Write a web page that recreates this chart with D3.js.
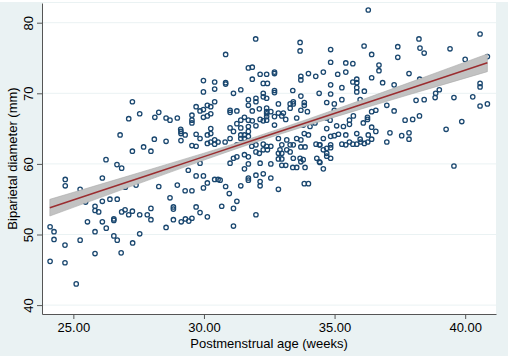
<!DOCTYPE html>
<html>
<head>
<meta charset="utf-8">
<script src="https://cdn.jsdelivr.net/npm/d3@7"></script>
<style>
  html, body { margin: 0; padding: 0; background: #ffffff; }
  svg { display: block; font-family: "Liberation Sans", Arial, sans-serif; }
</style>
</head>
<body>
<svg id="chart" width="510" height="356"></svg>
<script>
// Postmenstrual age (weeks) for each infant
const ageWeeks = [
  26.25,26.67,24.69,26.11,24.69,25.26,25.47,26.40,26.68,26.11,
  25.83,25.83,25.97,26.55,26.55,25.54,26.11,26.26,25.83,26.55,
  26.68,25.83,25.26,24.11,24.26,24.26,24.68,24.11,24.68,25.11,
  29.98,30.41,29.98,30.41,27.26,27.54,27.12,28.12,28.27,28.55,
  28.70,28.98,29.54,29.54,29.54,29.70,29.85,29.98,30.13,30.26,
  30.41,30.13,30.26,29.11,30.26,29.98,
  26.79,29.12,29.28,29.70,30.13,30.26,29.85,30.13,30.26,30.41,
  30.41,30.54,29.54,29.70,29.12,28.55,28.10,27.69,27.26,27.97,
  26.85,29.85,29.40,29.70,29.98,30.13,30.41,30.54,28.98,29.28,
  29.54,28.27,27.40,29.98,28.70,28.83,28.83,29.70,29.85,29.29,
  29.54,29.42,29.13,30.13,28.55,27.97,27.83,27.97,27.54,27.26,
  27.12,26.98,26.85,26.99,28.83,27.54,27.27,26.83,
  31.98,30.83,33.68,33.68,31.70,31.85,32.15,31.85,32.70,32.70,
  32.40,30.83,30.83,32.27,32.43,33.71,33.71,34.00,34.28,31.13,
  31.41,32.27,32.27,32.70,32.70,33.40,33.71,34.41,31.70,31.99,
  31.99,32.40,32.85,33.30,33.42,33.42,33.84,33.84,31.70,31.00,
  31.00,31.26,31.85,32.12,32.40,32.40,32.40,32.40,32.40,32.56,
  32.85,32.98,33.04,33.30,33.13,33.55,33.71,33.96,34.28,31.55,
  31.41,31.26,31.70,31.85,32.15,32.27,32.70,32.70,31.00,31.41,
  31.70,31.99,33.80,34.06,34.25,
  31.13,31.41,31.55,31.70,31.41,31.55,31.70,31.00,30.81,31.26,
  31.83,31.99,32.27,32.40,32.56,32.43,32.27,32.12,31.99,32.85,
  32.98,33.17,33.30,33.42,33.55,33.71,33.84,34.00,33.71,33.87,
  34.29,34.42,32.91,32.85,32.98,33.17,33.30,33.68,33.71,33.80,
  34.32,34.42,33.42,32.85,32.98,32.98,33.13,33.40,33.55,33.87,
  31.13,31.26,31.55,31.70,31.00,31.70,32.15,32.56,31.55,31.99,
  32.27,32.56,31.70,31.70,32.15,32.15,31.41,32.85,33.84,34.00,
  30.83,30.97,30.62,31.26,31.13,30.68,31.99,31.13,
  36.13,37.42,38.23,34.85,36.42,37.42,34.85,35.43,35.70,36.70,
  36.70,34.57,35.12,35.43,35.85,35.85,35.70,36.42,36.84,37.28,
  37.85,34.85,35.28,34.85,35.85,35.85,36.14,34.70,34.99,35.28,
  34.99,35.98,37.00,38.12,36.42,36.58,37.28,36.26,36.26,35.72,
  35.57,35.57,35.34,34.70,34.83,35.08,34.70,36.10,36.42,37.70,
  37.99,38.25,
  36.29,
  34.57,34.85,34.99,35.15,35.43,35.85,36.29,36.58,37.12,37.57,
  37.85,37.85,34.44,34.57,34.70,34.85,34.85,34.70,34.70,34.85,
  35.28,35.43,35.57,35.70,35.85,35.98,36.00,36.14,36.27,36.42,
  37.00,34.44,34.57,
  38.27,38.43,39.42,40.00,40.57,40.85,38.26,38.43,38.87,38.85,
  39.01,39.57,40.29,40.57,40.57,40.57,40.85,39.27,39.87,39.57,
  29.12
];

// Biparietal diameter (mm), same order as ageWeeks
const bpdMm = [
  60.6,59.9,57.8,58.0,56.9,56.4,54.6,55.0,55.0,54.7,
  54.0,53.4,53.2,52.2,52.0,51.8,51.8,50.9,50.4,49.8,
  49.2,47.3,49.2,51.1,50.4,49.3,48.5,46.2,46.0,43.0,
  71.8,71.6,70.2,70.6,68.8,67.1,66.4,66.6,67.3,66.5,
  66.2,66.5,66.9,66.2,65.8,68.1,67.5,67.7,68.3,68.1,
  68.8,66.8,67.1,64.9,65.0,66.6,
  64.1,64.6,64.1,64.2,64.1,64.3,63.6,62.9,63.1,63.4,
  62.8,63.1,62.6,62.5,63.3,63.2,63.5,62.4,61.8,61.8,
  59.4,60.1,59.1,58.3,58.3,57.3,57.8,57.8,57.0,56.2,
  56.2,56.8,57.0,56.6,55.2,53.9,53.6,53.9,53.1,52.2,
  52.3,51.9,51.8,52.5,51.0,53.7,52.8,52.1,52.8,53.3,
  52.8,53.5,53.2,56.7,52.1,50.1,48.8,47.4,
  77.7,75.5,77.2,76.0,73.6,73.7,72.7,72.0,73.0,72.8,
  72.7,71.5,71.3,71.4,71.4,72.4,71.9,72.8,72.4,70.0,
  70.5,70.0,69.5,70.4,70.1,70.4,69.6,70.0,69.1,69.3,
  68.8,69.3,68.5,68.5,68.8,68.5,68.7,68.3,68.3,67.6,
  67.3,67.5,67.5,67.8,67.9,67.4,67.1,66.7,66.2,67.4,
  67.2,66.8,67.2,67.9,66.3,66.5,67.6,67.4,66.2,66.6,
  66.2,65.7,66.2,66.1,66.3,66.1,66.7,65.5,65.1,65.1,
  65.3,65.4,65.5,65.3,65.8,
  64.6,64.1,64.1,64.6,63.6,63.6,63.9,63.6,63.1,62.7,
  62.5,62.7,62.8,62.5,62.5,62.0,62.0,61.5,61.7,63.6,
  62.7,63.4,62.7,62.7,63.6,63.4,64.3,64.1,62.4,62.4,
  62.8,62.7,62.0,61.5,61.5,62.0,61.7,60.8,60.3,60.6,
  60.8,60.3,60.8,60.7,60.7,59.8,59.8,59.5,59.5,59.5,
  60.8,61.0,61.3,61.0,60.1,60.0,60.1,60.0,59.3,58.4,
  58.6,58.0,58.0,57.7,57.5,56.9,56.9,56.4,57.2,57.2,
  56.8,55.8,57.7,54.7,53.7,54.0,52.8,51.2,
  76.7,76.6,77.7,76.2,75.5,75.1,74.4,74.3,74.2,74.0,
  73.2,73.0,72.7,73.0,72.0,71.5,71.6,72.2,71.5,71.2,
  72.8,71.2,70.8,69.9,70.8,70.2,70.3,68.7,68.5,69.1,
  67.6,69.1,68.3,69.0,67.4,67.6,67.5,66.6,66.3,66.8,
  66.2,65.6,65.3,66.5,66.2,65.4,65.0,65.8,65.2,66.2,
  66.3,66.8,
  81.8,
  63.6,63.9,64.0,64.2,64.1,64.3,64.1,64.6,64.4,64.0,
  64.4,63.5,62.7,62.0,62.2,62.7,62.3,61.5,61.1,60.8,
  62.8,62.7,63.1,62.8,62.8,63.5,63.1,62.9,63.1,63.5,
  63.1,60.2,59.3,
  76.4,75.7,76.3,74.8,78.4,75.2,72.0,69.1,70.0,69.4,
  70.5,69.4,69.5,71.4,70.9,68.2,68.5,64.9,66.0,59.7,
  64.3
];

// Fitted line with 95% confidence band
const fitWeeks = [24.1, 26, 28, 30, 32, 34, 36, 38, 40.85];
const fitMm    = [53.80, 56.13, 58.58, 61.03, 63.48, 65.93, 68.38, 70.83, 74.32];
const fitLow   = [52.62, 55.19, 57.88, 60.54, 63.10, 65.49, 67.75, 69.97, 73.07];
const fitHigh  = [54.98, 57.07, 59.28, 61.52, 63.86, 66.37, 69.01, 71.70, 75.57];

const xTicks = [25, 30, 35, 40];
const yTicks = [40, 50, 60, 70, 80];

const plot = { left: 42, right: 496, top: 3, bottom: 314 };
const svg = d3.select("#chart");

// graph region + plot region
svg.append("rect")
  .attr("x", 0).attr("y", 2)
  .attr("width", 508).attr("height", 354)
  .attr("fill", "#eaf2f3");
svg.append("rect")
  .attr("x", plot.left).attr("y", plot.top)
  .attr("width", plot.right - plot.left).attr("height", plot.bottom - plot.top)
  .attr("fill", "#ffffff");

const x = d3.scaleLinear().domain([23.8, 41.18]).range([plot.left, plot.right]);
const y = d3.scaleLinear().domain([38.74, 82.79]).range([plot.bottom, plot.top]);

// horizontal grid
svg.append("g")
  .selectAll("line")
  .data(yTicks)
  .enter()
  .append("line")
  .attr("x1", plot.left).attr("x2", plot.right)
  .attr("y1", d => y(d)).attr("y2", d => y(d))
  .attr("stroke", "#eaf2f3")
  .attr("stroke-width", 1);

// scatter
const points = ageWeeks.map((w, i) => ({ w: w, mm: bpdMm[i] }));
svg.append("g")
  .selectAll("circle")
  .data(points)
  .enter()
  .append("circle")
  .attr("cx", d => x(d.w))
  .attr("cy", d => y(d.mm))
  .attr("r", 2.2)
  .attr("fill", "none")
  .attr("stroke", "#1a476f")
  .attr("stroke-width", 1.3);

// confidence band and fitted line
const fit = fitWeeks.map((w, i) => ({ w: w, mid: fitMm[i], lo: fitLow[i], hi: fitHigh[i] }));
const band = d3.area()
  .x(d => x(d.w))
  .y0(d => y(d.lo))
  .y1(d => y(d.hi))
  .curve(d3.curveMonotoneX);
svg.append("path")
  .datum(fit)
  .attr("d", band)
  .attr("fill", "#c2c2c2")
  .attr("stroke", "#a9a9a9")
  .attr("stroke-width", 0.6);

svg.append("path")
  .datum(fit)
  .attr("d", d3.line().x(d => x(d.w)).y(d => y(d.mid)))
  .attr("fill", "none")
  .attr("stroke", "#9b2d30")
  .attr("stroke-width", 1.5);

// axes
const yAxis = svg.append("g")
  .attr("transform", "translate(" + plot.left + ",0)")
  .style("color", "#555555")
  .call(d3.axisLeft(y).tickValues(yTicks).tickSize(5).tickSizeOuter(0));
yAxis.selectAll("text")
  .attr("x", null).attr("dy", null)
  .attr("transform", "translate(-9,0) rotate(-90)")
  .attr("text-anchor", "middle")
  .attr("fill", "#000")
  .style("font-size", "13px")
  .style("font-family", "'Liberation Sans', Arial, sans-serif");

const xAxis = svg.append("g")
  .attr("transform", "translate(0," + plot.bottom + ")")
  .style("color", "#555555")
  .call(d3.axisBottom(x).tickValues(xTicks).tickFormat(d3.format(".2f")).tickSize(5).tickSizeOuter(0));
xAxis.selectAll("text")
  .attr("y", 18).attr("dy", null)
  .attr("fill", "#000")
  .style("font-size", "13px")
  .style("font-family", "'Liberation Sans', Arial, sans-serif");

// axis titles
svg.append("text")
  .attr("x", (plot.left + plot.right) / 2)
  .attr("y", 347.5)
  .attr("text-anchor", "middle")
  .style("font-size", "13px")
  .text("Postmenstrual age (weeks)");

svg.append("text")
  .attr("transform", "translate(16.5," + (plot.top + plot.bottom) / 2 + ") rotate(-90)")
  .attr("text-anchor", "middle")
  .style("font-size", "13px")
  .text("Biparietal diameter (mm)");
</script>
</body>
</html>
